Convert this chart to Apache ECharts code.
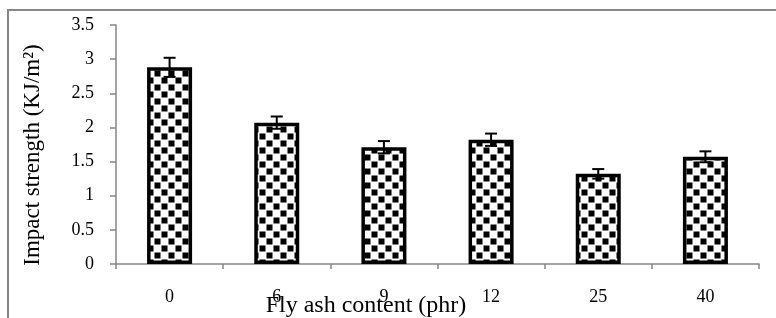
<!DOCTYPE html>
<html>
<head>
<meta charset="utf-8">
<script src="https://cdn.jsdelivr.net/npm/echarts@6/dist/echarts.min.js"></script>
<style>
  html, body { margin: 0; padding: 0; background: #fff; }
  #main { width: 776px; height: 318px; }
</style>
</head>
<body>
<div id="main"></div>
<script>
// data
var categories = ['0', '6', '9', '12', '25', '40'];
var strength = [2.88, 2.07, 1.71, 1.82, 1.32, 1.57];
var errors = [0.14, 0.09, 0.09, 0.09, 0.07, 0.08];
var yMin = 0, yMax = 3.5, yStep = 0.5;

var serif = 'Liberation Serif';
var axisGray = '#868686';

// checkerboard fill for the bars
function makeChecker() {
  var c = document.createElement('canvas');
  c.width = 14;
  c.height = 14;
  var ctx = c.getContext('2d');
  ctx.fillStyle = '#fff';
  ctx.fillRect(0, 0, 14, 14);
  ctx.fillStyle = '#000';
  ctx.fillRect(0.5, 0.5, 6, 6);
  ctx.fillRect(7.5, 7.5, 6, 6);
  return c;
}

// error bar rows: [index, low, high]
var errData = strength.map(function (v, i) {
  return [i, v - errors[i], v + errors[i]];
});

var chart = echarts.init(document.getElementById('main'));
var option = {
  animation: false,
  grid: { left: 116, right: 17, top: 25, bottom: 54 },
  xAxis: {
    type: 'category',
    data: categories,
    axisLine: { lineStyle: { color: axisGray, width: 1.5 } },
    axisTick: { show: true, length: 5, lineStyle: { color: axisGray, width: 1.5 } },
    axisLabel: { color: '#000', fontFamily: serif, fontSize: 18, margin: 24 }
  },
  yAxis: {
    type: 'value',
    min: yMin,
    max: yMax,
    interval: yStep,
    splitLine: { show: false },
    axisLine: { show: true, lineStyle: { color: axisGray, width: 1.5 } },
    axisTick: { show: true, length: 6, lineStyle: { color: axisGray, width: 1.5 } },
    axisLabel: { color: '#000', fontFamily: serif, fontSize: 18, margin: 22 }
  },
  graphic: [
    {
      // outer chart frame (only top and left show)
      type: 'rect',
      shape: { x: 8, y: 10, width: 900, height: 500 },
      style: { fill: 'none', stroke: axisGray, lineWidth: 2 },
      silent: true
    },
    {
      type: 'text',
      x: 366,
      y: 306,
      style: {
        text: 'Fly ash content (phr)',
        font: '24px "Liberation Serif"',
        fill: '#000',
        align: 'center',
        verticalAlign: 'middle'
      }
    },
    {
      type: 'text',
      x: 33,
      y: 155,
      rotation: Math.PI / 2,
      style: {
        text: 'Impact strength (KJ/m²)',
        font: '23px "Liberation Serif"',
        fill: '#000',
        align: 'center',
        verticalAlign: 'middle'
      }
    }
  ],
  series: [
    {
      type: 'bar',
      data: strength,
      barWidth: 45,
      itemStyle: {
        color: { image: makeChecker(), repeat: 'repeat' },
        borderColor: '#000',
        borderWidth: 3.5
      }
    },
    {
      type: 'custom',
      data: errData,
      z: 10,
      renderItem: function (params, api) {
        var x = api.value(0);
        var lo = api.coord([x, api.value(1)]);
        var hi = api.coord([x, api.value(2)]);
        var half = 6;
        var st = { stroke: '#000', lineWidth: 2 };
        return {
          type: 'group',
          children: [
            { type: 'line', shape: { x1: hi[0], y1: hi[1], x2: lo[0], y2: lo[1] }, style: st },
            { type: 'line', shape: { x1: hi[0] - half, y1: hi[1], x2: hi[0] + half, y2: hi[1] }, style: st },
            { type: 'line', shape: { x1: lo[0] - half, y1: lo[1], x2: lo[0] + half, y2: lo[1] }, style: st }
          ]
        };
      }
    }
  ]
};
chart.setOption(option);
</script>
</body>
</html>
